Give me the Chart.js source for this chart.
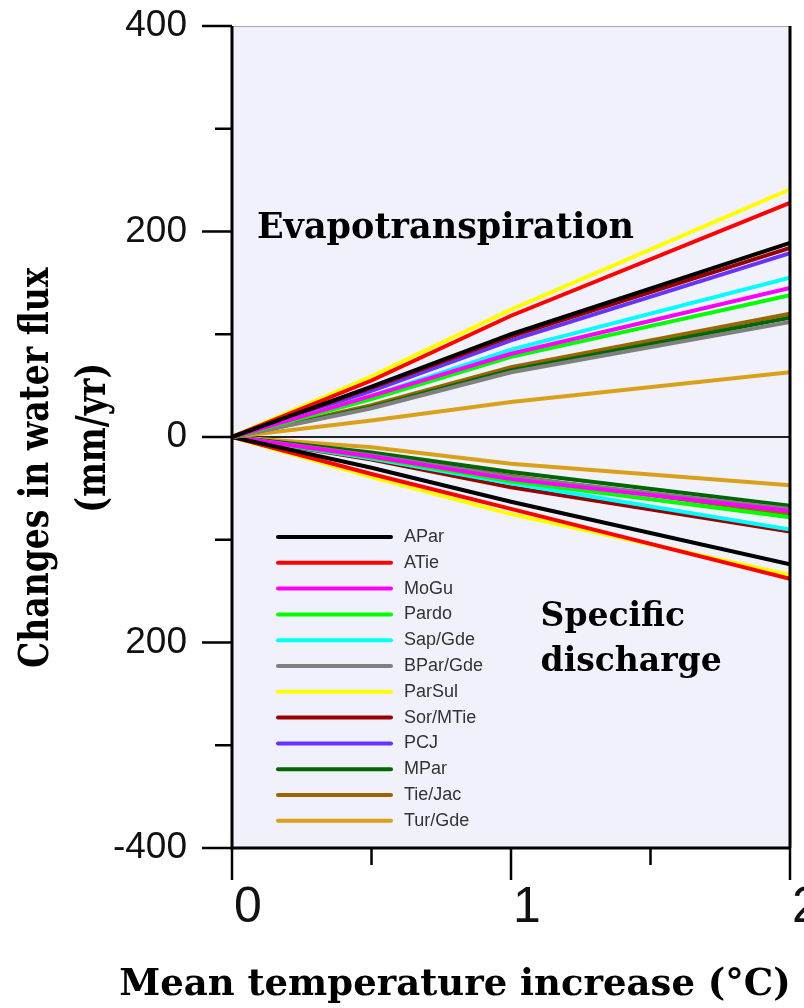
<!DOCTYPE html>
<html>
<head>
<meta charset="utf-8">
<script src="https://cdn.jsdelivr.net/npm/chart.js@4.4.1/dist/chart.umd.min.js"></script>
<style>
  html, body { margin: 0; padding: 0; background: #fff; }
  #wrap { width: 804px; height: 1008px; }
</style>
</head>
<body>
<div id="wrap"><canvas id="chartFlux" width="804" height="1008"></canvas></div>
<script>
// temperature steps (x) and station names
const temps = [0, 0.5, 1, 2];
const stations = ['APar', 'ATie', 'MoGu', 'Pardo', 'Sap/Gde', 'BPar/Gde', 'ParSul', 'Sor/MTie', 'PCJ', 'MPar', 'Tie/Jac', 'Tur/Gde'];
const colors = ['#000000', '#ff0000', '#ff00ff', '#00ff00', '#00ffff', '#808080',
                '#ffff00', '#990000', '#6633ff', '#006600', '#996600', '#d9a01a'];

// evapotranspiration change (mm/yr), one row per station
const evapo = [
  [0, 49, 100, 189],
  [0, 55, 118, 228],
  [0, 40, 81, 145],
  [0, 37, 78, 138],
  [0, 40, 85, 155],
  [0, 28, 63, 112],
  [0, 59, 124, 241],
  [0, 48, 98, 184],
  [0, 45, 94, 179],
  [0, 29, 65, 116],
  [0, 31, 68, 120],
  [0, 16, 34, 63]
];

// specific discharge change (mm/yr)
const discharge = [
  [0, -30, -63, -124],
  [0, -36, -70, -138],
  [0, -19, -41, -72],
  [0, -20, -43, -78],
  [0, -21, -45, -90],
  [0, -18, -39, -70],
  [0, -39, -75, -134],
  [0, -22, -49, -92],
  [0, -18, -39, -72],
  [0, -15, -34, -67],
  [0, -17, -38, -75],
  [0, -10, -26, -47]
];

// axis ticks
const xMajor = [0, 1, 2];
const xMinor = [0.5, 1.5];
const yMajor = [400, 200, 0, -200, -400];
const yMajorLabels = ['400', '200', '0', '200', '-400'];
const yMinor = [300, 100, -100, -300];

const datasets = [];
stations.forEach((name, i) => {
    datasets.push({
        label: name,
        data: temps.map((t, k) => ({ x: t, y: evapo[i][k] })),
        borderColor: colors[i],
        borderWidth: 4,
        pointRadius: 0,
        tension: 0
    });
});
stations.forEach((name, i) => {
    datasets.push({
        label: name + ' Q',
        data: temps.map((t, k) => ({ x: t, y: discharge[i][k] })),
        borderColor: colors[i],
        borderWidth: 4,
        pointRadius: 0,
        tension: 0
    });
});

const decor = {
    id: 'decor',
    beforeDraw(chart) {
        const { ctx, chartArea: a } = chart;
        const y0 = chart.scales.y.getPixelForValue(0);
        ctx.save();
        ctx.fillStyle = '#f1f1fb';
        ctx.fillRect(a.left, a.top, a.right - a.left, a.bottom - a.top);
        ctx.strokeStyle = '#aaa';
        ctx.lineWidth = 1;
        ctx.beginPath();
        ctx.moveTo(a.left, a.top + 0.5);
        ctx.lineTo(a.right, a.top + 0.5);
        ctx.stroke();
        ctx.strokeStyle = '#222';
        ctx.lineWidth = 2;
        ctx.beginPath();
        ctx.moveTo(a.left, y0);
        ctx.lineTo(a.right, y0);
        ctx.stroke();
        ctx.restore();
    },
    afterDraw(chart) {
        const { ctx, chartArea: a } = chart;
        const sx = chart.scales.x, sy = chart.scales.y;
        ctx.save();

        // frame
        ctx.strokeStyle = '#000';
        ctx.lineWidth = 3;
        ctx.beginPath();
        ctx.moveTo(a.left, a.top);
        ctx.lineTo(a.left, a.bottom);
        ctx.lineTo(a.right, a.bottom);
        ctx.moveTo(a.right, a.top);
        ctx.lineTo(a.right, a.bottom);
        ctx.stroke();

        // y ticks
        ctx.lineWidth = 2.5;
        ctx.beginPath();
        yMajor.forEach(v => {
            const y = sy.getPixelForValue(v);
            ctx.moveTo(a.left - 30, y);
            ctx.lineTo(a.left, y);
        });
        yMinor.forEach(v => {
            const y = sy.getPixelForValue(v);
            ctx.moveTo(a.left - 17, y);
            ctx.lineTo(a.left, y);
        });
        // x ticks
        xMajor.forEach(v => {
            const x = sx.getPixelForValue(v);
            ctx.moveTo(x, a.bottom);
            ctx.lineTo(x, a.bottom + 32);
        });
        xMinor.forEach(v => {
            const x = sx.getPixelForValue(v);
            ctx.moveTo(x, a.bottom);
            ctx.lineTo(x, a.bottom + 17);
        });
        ctx.stroke();

        // tick labels
        ctx.fillStyle = '#111';
        ctx.font = '37px "Liberation Sans"';
        ctx.textAlign = 'right';
        ctx.textBaseline = 'middle';
        yMajor.forEach((v, i) => {
            ctx.fillText(yMajorLabels[i], a.left - 45, sy.getPixelForValue(v));
        });
        ctx.font = '50px "Liberation Sans"';
        ctx.textAlign = 'center';
        xMajor.forEach(v => {
            ctx.fillText(String(v), sx.getPixelForValue(v) + 16, a.bottom + 60);
        });

        // axis titles
        ctx.fillStyle = '#000';
        ctx.font = 'bold 37px "DejaVu Serif"';
        ctx.textAlign = 'center';
        ctx.fillText('Mean temperature increase (\u00B0C)', 455, 985);
        ctx.save();
        ctx.translate(0, sy.getPixelForValue(-30));
        ctx.rotate(-Math.PI / 2);
        ctx.scale(1, 1.22);
        ctx.font = 'bold 33px "DejaVu Serif"';
        ctx.fillText('Changes in water flux', 0, 38 / 1.22);
        ctx.fillText('(mm/yr)', 30, 95 / 1.22);
        ctx.restore();

        // annotations
        ctx.font = 'bold 35px "DejaVu Serif"';
        ctx.fillText('Evapotranspiration', sx.getPixelForValue(0.765), sy.getPixelForValue(203));
        ctx.font = 'bold 33px "DejaVu Serif"';
        ctx.textAlign = 'left';
        ctx.fillText('Specific', sx.getPixelForValue(1.106), sy.getPixelForValue(-176));
        ctx.fillText('discharge', sx.getPixelForValue(1.106), sy.getPixelForValue(-219));

        // legend
        ctx.font = '18px "Liberation Sans"';
        ctx.fillStyle = '#333';
        ctx.lineWidth = 4;
        ctx.lineCap = 'round';
        stations.forEach((name, i) => {
            const y = a.top + 511 + i * 25.8;
            ctx.strokeStyle = colors[i];
            ctx.beginPath();
            ctx.moveTo(a.left + 46, y);
            ctx.lineTo(a.left + 159, y);
            ctx.stroke();
            ctx.fillText(name, a.left + 172, y);
        });
        ctx.restore();
    }
};

new Chart(document.getElementById('chartFlux').getContext('2d'), {
    type: 'line',
    data: { datasets: datasets },
    options: {
        responsive: false,
        animation: false,
        layout: { padding: { top: 26, right: 14, left: 0, bottom: 0 } },
        plugins: {
            legend: { display: false },
            tooltip: { enabled: false }
        },
        scales: {
            x: {
                type: 'linear', min: 0, max: 2,
                ticks: { display: false },
                grid: { display: false },
                border: { display: false },
                afterFit: s => { s.height = 160; }
            },
            y: {
                min: -400, max: 400,
                ticks: { display: false },
                grid: { display: false },
                border: { display: false },
                afterFit: s => { s.width = 232; }
            }
        }
    },
    plugins: [decor]
});
</script>
</body>
</html>
